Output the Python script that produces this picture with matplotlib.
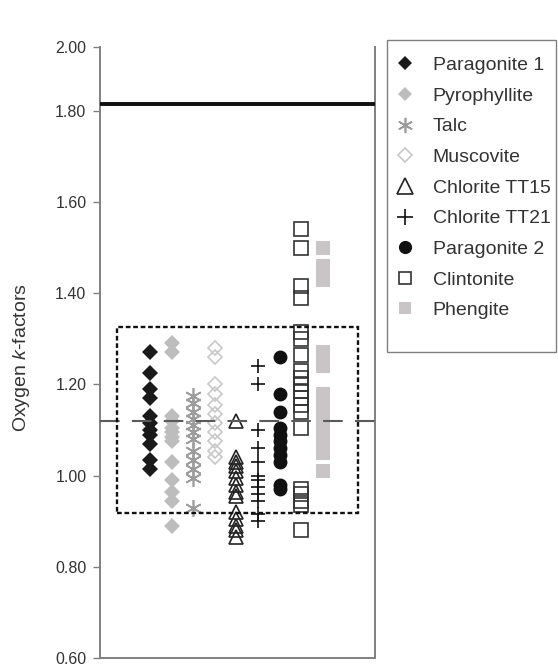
import numpy as np
import matplotlib.pyplot as plt
from matplotlib.patches import Rectangle

plt.rcParams['font.family'] = ['Liberation Sans', 'DejaVu Sans']
plt.rcParams['mathtext.fontset'] = 'custom'
plt.rcParams['mathtext.rm'] = 'Liberation Sans'
plt.rcParams['mathtext.it'] = 'Liberation Sans:italic'

# k-factor values per mineral
paragonite1 = [1.27, 1.225, 1.19, 1.17, 1.13, 1.115, 1.10, 1.09, 1.07, 1.035, 1.015]
pyrophyllite = [1.29, 1.27, 1.13, 1.12, 1.105, 1.095, 1.085, 1.075, 1.03, 0.99, 0.965, 0.945, 0.89]
talc = [1.175, 1.16, 1.14, 1.125, 1.11, 1.095, 1.08, 1.055, 1.035, 1.015, 0.995, 0.93]
muscovite = [1.28, 1.26, 1.20, 1.18, 1.155, 1.135, 1.115, 1.095, 1.075, 1.055, 1.04]
chlorite_tt15 = [1.12, 1.04, 1.03, 1.02, 1.01, 0.995, 0.98, 0.965, 0.955, 0.92, 0.905, 0.89, 0.88, 0.865]
chlorite_tt21 = [1.24, 1.20, 1.10, 1.06, 1.03, 1.00, 0.99, 0.975, 0.96, 0.945, 0.915, 0.90]
paragonite2 = [1.26, 1.18, 1.14, 1.105, 1.09, 1.075, 1.06, 1.045, 1.03, 0.98, 0.97]
clintonite = [1.54, 1.50, 1.415, 1.39, 1.315, 1.30, 1.265, 1.23, 1.215, 1.20, 1.185, 1.17,
              1.155, 1.14, 1.105, 0.97, 0.96, 0.945, 0.935, 0.88]
phengite = [1.50, 1.46, 1.43, 1.27, 1.24, 1.18, 1.155, 1.125, 1.095, 1.07, 1.05, 1.01]

labels = ['Paragonite 1', 'Pyrophyllite', 'Talc', 'Muscovite', 'Chlorite TT15',
          'Chlorite TT21', 'Paragonite 2', 'Clintonite', 'Phengite']
series = [paragonite1, pyrophyllite, talc, muscovite, chlorite_tt15,
          chlorite_tt21, paragonite2, clintonite, phengite]

upper_line = 1.82
mean_line = 1.12
box_y = (0.918, 1.326)
yticks = [0.60, 0.80, 1.00, 1.20, 1.40, 1.60, 1.80, 2.00]

styles = [
    dict(marker='D', ms=8.5, mfc='#1a1a1a', mec='#1a1a1a', mew=0),
    dict(marker='D', ms=8.5, mfc='#bdbdbd', mec='#bdbdbd', mew=0),
    dict(marker=(6, 2, 0), ms=12, mfc='none', mec='#9c9c9c', mew=1.2),
    dict(marker='D', ms=7.5, mfc='none', mec='#c8c8c8', mew=1.2),
    dict(marker='^', ms=10.5, mfc='none', mec='#222222', mew=1.2),
    dict(marker='+', ms=10.5, mfc='none', mec='#111111', mew=1.2),
    dict(marker='o', ms=10, mfc='#111111', mec='#111111', mew=0),
    dict(marker='s', ms=9.5, mfc='none', mec='#333333', mew=1.2),
    dict(marker='s', ms=9.8, mfc='#c9c5c6', mec='#c9c5c6', mew=0),
]
legend_ms = [7.5, 7.5, 11, 7, 11, 11, 9.5, 9, 9]


# axis is compressed above 1.80 in the original
def fwd(y):
    y = np.asarray(y, dtype=float)
    return np.where(y <= 1.8, y, 1.8 + (y - 1.8) * 0.70)


def inv(t):
    t = np.asarray(t, dtype=float)
    return np.where(t <= 1.8, t, 1.8 + (t - 1.8) / 0.70)


fig = plt.figure(figsize=(5.58, 6.68), dpi=100)
ax = fig.add_axes([100/558, 10/668, 275/558, 611/668])
ax.set_yscale('function', functions=(fwd, inv))

for i, (vals, lab, st) in enumerate(zip(series, labels, styles)):
    ax.plot(np.full(len(vals), i), vals, ls='none', label=lab, zorder=2, **st)

ax.axhline(upper_line, color='#111111', lw=2.8, zorder=3)
ax.axhline(mean_line, color='#5a5a5a', lw=1.5, ls=(0, (9.4, 5.9)), zorder=3)
ax.add_patch(Rectangle((-1.53, box_y[0]), 9.63 + 1.53, box_y[1] - box_y[0], fill=False,
                       ec='#111111', lw=1.7, ls=(0, (2.0, 1.15)), zorder=3))

ax.set_xlim(-2.315, 10.417)
ax.set_ylim(0.6, 2.0)
ax.set_yticks(yticks)
ax.set_yticklabels([f'{t:.2f}' for t in yticks])
ax.set_xticks([])
ax.tick_params(axis='y', direction='out', length=4.8, width=1, color='#808080',
               labelsize=11.5, labelcolor='#333333', pad=5)
for side in ['left', 'bottom', 'right']:
    ax.spines[side].set_color('#808080')
    ax.spines[side].set_linewidth(1.4)
ax.spines['top'].set_visible(False)

ax.set_ylabel('Oxygen $\\mathit{k}$-factors', fontsize=14, color='#333333')
ax.yaxis.set_label_coords(-0.247, 0.491)

leg = ax.legend(loc='upper left', bbox_to_anchor=(393/558, (668-56.5)/668),
                bbox_transform=fig.transFigure, frameon=False, fontsize=14,
                handlelength=1.2, handletextpad=0.84, labelspacing=0.67,
                borderpad=0, borderaxespad=0)
for t, h, ms in zip(leg.get_texts(), leg.legend_handles, legend_ms):
    t.set_color('#333333')
    h.set_markersize(ms)
fig.patches.append(Rectangle((387/558, (668-352)/668), (556-387)/558, (352-40)/668,
                             transform=fig.transFigure, fill=False, ec='#808080', lw=1))

fig.savefig('out.png', dpi=100)
